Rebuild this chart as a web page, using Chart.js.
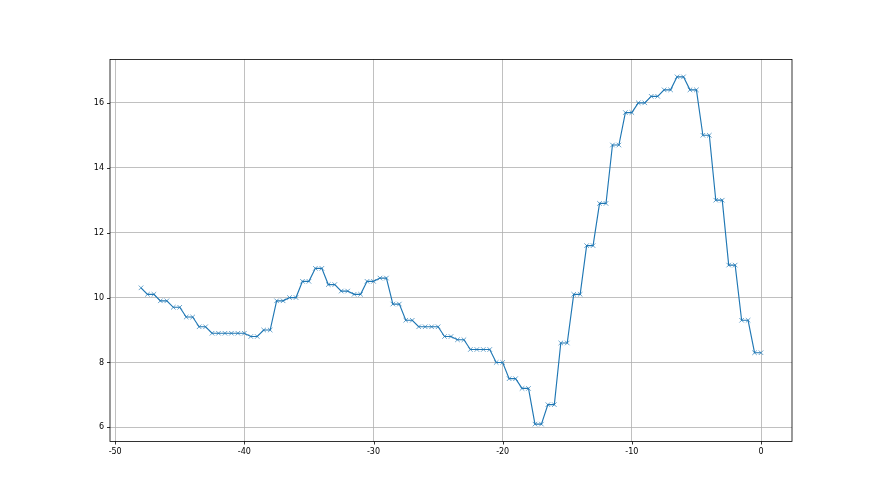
<!DOCTYPE html>
<html>
<head>
<meta charset="utf-8">
<script src="https://cdn.jsdelivr.net/npm/chart.js@4/dist/chart.umd.min.js"></script>
<style>
  html, body { margin: 0; padding: 0; background: #fff; }
  #wrap { width: 880px; height: 495px; position: relative; }
</style>
</head>
<body>
<div id="wrap"><canvas id="lineChart"></canvas></div>
<script>
// Data
const xValues = [
  -48, -47.5, -47, -46.5, -46, -45.5, -45, -44.5, -44, -43.5, -43, -42.5, -42,
  -41.5, -41, -40.5, -40, -39.5, -39, -38.5, -38, -37.5, -37, -36.5, -36,
  -35.5, -35, -34.5, -34, -33.5, -33, -32.5, -32, -31.5, -31, -30.5, -30,
  -29.5, -29, -28.5, -28, -27.5, -27, -26.5, -26, -25.5, -25, -24.5, -24,
  -23.5, -23, -22.5, -22, -21.5, -21, -20.5, -20, -19.5, -19, -18.5, -18,
  -17.5, -17, -16.5, -16, -15.5, -15, -14.5, -14, -13.5, -13, -12.5, -12,
  -11.5, -11, -10.5, -10, -9.5, -9, -8.5, -8, -7.5, -7, -6.5, -6,
  -5.5, -5, -4.5, -4, -3.5, -3, -2.5, -2, -1.5, -1, -0.5, 0
];
const yValues = [
  10.3, 10.1, 10.1, 9.9, 9.9, 9.7, 9.7, 9.4, 9.4, 9.1, 9.1, 8.9, 8.9,
  8.9, 8.9, 8.9, 8.9, 8.8, 8.8, 9.0, 9.0, 9.9, 9.9, 10.0, 10.0,
  10.5, 10.5, 10.9, 10.9, 10.4, 10.4, 10.2, 10.2, 10.1, 10.1, 10.5, 10.5,
  10.6, 10.6, 9.8, 9.8, 9.3, 9.3, 9.1, 9.1, 9.1, 9.1, 8.8, 8.8,
  8.7, 8.7, 8.4, 8.4, 8.4, 8.4, 8.0, 8.0, 7.5, 7.5, 7.2, 7.2,
  6.1, 6.1, 6.7, 6.7, 8.6, 8.6, 10.1, 10.1, 11.6, 11.6, 12.9, 12.9,
  14.7, 14.7, 15.7, 15.7, 16.0, 16.0, 16.2, 16.2, 16.4, 16.4, 16.8, 16.8,
  16.4, 16.4, 15.0, 15.0, 13.0, 13.0, 11.0, 11.0, 9.3, 9.3, 8.3, 8.3
];
const xTicks = [-50, -40, -30, -20, -10, 0];
const yTicks = [6, 8, 10, 12, 14, 16];

// Axis limits (matplotlib-like 5% margins)
const X_MIN = -50.4, X_MAX = 2.4;
const Y_MIN = 5.565, Y_MAX = 17.335;

const points = xValues.map((x, i) => ({ x: x, y: yValues[i] }));

// Black frame around the plot area plus black tick marks
const framePlugin = {
  id: 'frame',
  afterDraw(chart) {
    const { ctx, chartArea: a, scales } = chart;
    ctx.save();
    ctx.strokeStyle = '#000';
    ctx.lineWidth = 0.8;
    ctx.strokeRect(a.left, a.top, a.right - a.left, a.bottom - a.top);
    ctx.beginPath();
    xTicks.forEach(t => {
      const px = Math.round(scales.x.getPixelForValue(t)) + 0.5;
      ctx.moveTo(px, a.bottom);
      ctx.lineTo(px, a.bottom + 3);
    });
    yTicks.forEach(t => {
      const py = Math.round(scales.y.getPixelForValue(t)) + 0.5;
      ctx.moveTo(a.left, py);
      ctx.lineTo(a.left - 3, py);
    });
    ctx.stroke();
    ctx.restore();
  }
};

const tickFont = { family: 'DejaVu Sans', size: 8 };

new Chart(document.getElementById('lineChart'), {
  type: 'scatter',
  data: {
    datasets: [{
      data: points,
      showLine: true,
      borderColor: '#1f77b4',
      borderWidth: 1.15,
      pointStyle: 'crossRot',
      pointRadius: 3.2,
      pointBorderWidth: 0.8,
      pointBorderColor: 'rgba(31, 119, 180, 0.85)',
      pointBackgroundColor: '#1f77b4',
      tension: 0
    }]
  },
  options: {
    responsive: true,
    maintainAspectRatio: false,
    animation: false,
    layout: { padding: { left: 70, right: 88, top: 59.5, bottom: 19.5 } },
    plugins: {
      legend: { display: false },
      tooltip: { enabled: false }
    },
    scales: {
      x: {
        type: 'linear',
        min: X_MIN,
        max: X_MAX,
        afterBuildTicks: scale => { scale.ticks = xTicks.map(v => ({ value: v })); },
        afterFit: scale => { scale.height = 34; },
        grid: { color: '#b0b0b0', lineWidth: 0.8, drawTicks: false },
        border: { display: false },
        ticks: { color: '#000', font: tickFont, padding: 6, maxRotation: 0 }
      },
      y: {
        type: 'linear',
        min: Y_MIN,
        max: Y_MAX,
        afterBuildTicks: scale => { scale.ticks = yTicks.map(v => ({ value: v })); },
        afterFit: scale => { scale.width = 40; },
        grid: { color: '#b0b0b0', lineWidth: 0.8, drawTicks: false },
        border: { display: false },
        ticks: { color: '#000', font: tickFont, padding: 6 }
      }
    }
  },
  plugins: [framePlugin]
});
</script>
</body>
</html>
